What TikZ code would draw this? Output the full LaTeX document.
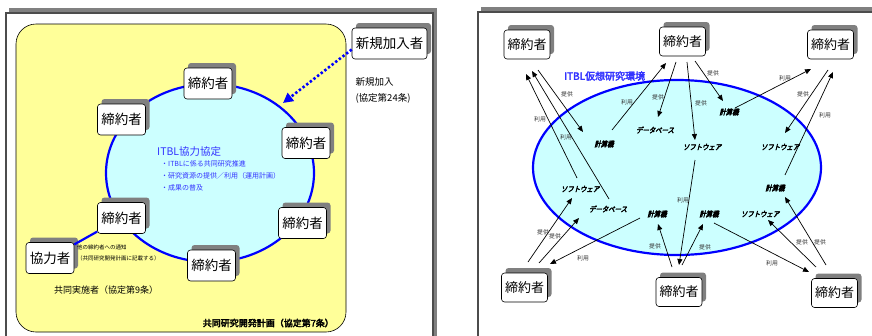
\documentclass[tikz,border=0pt]{standalone}
\usepackage{fontspec}
\setmainfont{Noto Sans CJK JP}
\newfontfamily\resfont{Noto Sans CJK JP}[FakeSlant=0.25,FakeBold=4,FakeStretch=0.85]
\newfontfamily\boldjp{Noto Sans CJK JP}[FakeBold=3]
\usetikzlibrary{arrows.meta,calc}
\definecolor{shadowgray}{HTML}{808080}
\definecolor{yellowbg}{HTML}{FFFF99}
\definecolor{cyanbg}{HTML}{CCFFFF}
\definecolor{ringblue}{HTML}{0000FF}
\definecolor{textblue}{HTML}{3333FF}
\definecolor{labelgray}{HTML}{333333}
\tikzset{
  shadowed/.style={preaction={draw=none,fill=shadowgray,transform canvas={shift={(4pt,5pt)}}}},
  party/.style={shadowed, draw=black, fill=white, rounded corners=3pt, line width=0.6pt,
    minimum width=48pt, minimum height=31pt, inner sep=0pt, font=\fontsize{13.5}{14}\selectfont},
  partyR/.style={party, minimum width=46pt, minimum height=29pt, font=\fontsize{13}{13}\selectfont},
  res/.style={inner sep=1pt, font=\resfont\fontsize{7.5}{8}\selectfont},
  lab/.style={inner sep=0pt, text=labelgray, font=\fontsize{5.8}{6}\selectfont},
  arr/.style={-{Triangle[length=6pt,width=5pt]}, line width=0.7pt},
  ring/.style={draw=ringblue, fill=cyanbg, line width=2.2pt},
  frame/.style={draw=black!70, fill=white, line width=1.2pt},
}
\begin{document}
\begin{tikzpicture}[x=1pt,y=-1pt]
\useasboundingbox (0,0) rectangle (872,335);
\begin{scope}
\clip (0,0) rectangle (872,335);
\fill[shadowgray] (9,8) rectangle (437,345);
\draw[frame] (6,13) rectangle (433,345);
\fill[shadowgray] (481,7) rectangle (880,345);
\draw[frame] (478,12) rectangle (880,345);
\end{scope}

% ---------- left panel ----------
\draw[fill=yellowbg, line width=0.6pt, rounded corners=20pt] (16,24) rectangle (346,332);
\draw[ring] (210,173) ellipse [x radius=104pt, y radius=89pt];

\node[party] (c1) at (208,83.5) {締約者};
\node[party] (c2) at (121.5,119.5) {締約者};
\node[party] (c3) at (306,143) {締約者};
\node[party] (c5) at (121.5,218) {締約者};
\node[party] (c4) at (302.5,223) {締約者};
\node[party] (c6) at (211.5,265.5) {締約者};
\node[party] (kyo) at (50,258) {協力者};
\node[party, minimum width=75pt] (new) at (389.5,43.5) {新規加入者};

\draw[ringblue, line width=2.2pt] (kyo) -- (c5);
\coordinate (newend) at (283,103);
\draw[ringblue, line width=2.6pt, dash pattern=on 2.4pt off 2.2pt,
  -{Triangle[length=10pt,width=10pt]}] ($(new.west)+(0,6)$) -- (newend);

\node[anchor=west, font=\fontsize{9.5}{10}\selectfont] (t1) at (352,82) {新規加入};
\node[anchor=west, font=\fontsize{9.5}{10}\selectfont] (t2) at (352,98) {(協定第24条)};
\node[anchor=west, text=textblue, font=\fontsize{10.5}{10}\selectfont, inner sep=0pt] (t3) at (157,152) {ITBL協力協定};
\node[anchor=west, text=textblue, font=\fontsize{7}{7}\selectfont, inner sep=0pt] (t4) at (161,164) {・ITBLに係る共同研究推進};
\node[anchor=west, text=textblue, font=\fontsize{7}{7}\selectfont, inner sep=0pt] (t5) at (161,176) {・研究資源の提供／利用（運用計画）};
\node[anchor=west, text=textblue, font=\fontsize{7}{7}\selectfont, inner sep=0pt] (t6) at (161,188) {・成果の普及};
\node[anchor=west, font=\fontsize{5.5}{6}\selectfont, inner sep=0pt] (t7) at (77,247) {他の締約者への通知};
\node[anchor=west, font=\fontsize{5.5}{6}\selectfont, inner sep=0pt] (t8) at (77,258) {（共同研究開発計画に記載する）};
\node[anchor=west, font=\fontsize{9}{9}\selectfont, inner sep=0pt] (t9) at (54,290) {共同実施者（協定第9条）};
\node[anchor=east, font=\boldjp\fontsize{9}{9}\selectfont, inner sep=0pt] (t10) at (334,323) {共同研究開発計画（協定第7条）};

% ---------- right panel ----------
\draw[ring] (677,167.5) ellipse [x radius=144pt, y radius=87.5pt];
\node[anchor=west, text=textblue, font=\boldjp\fontsize{10}{10}\selectfont, inner sep=0pt] (env) at (564,76) {ITBL仮想研究環境};

\node[partyR] (tl) at (527,44.5) {締約者};
\node[partyR] (tm) at (682.5,41.5) {締約者};
\node[partyR] (tr) at (830.5,44.5) {締約者};
\node[partyR] (bl) at (524.5,287.5) {締約者};
\node[partyR] (bm) at (679,292) {締約者};
\node[partyR] (br) at (834.5,293) {締約者};

\node[res] (A1) at (604,144) {計算機};
\node[res] (A2) at (655,130) {データベース};
\node[res] (A3) at (702,147) {ソフトウェア};
\node[res] (A4) at (729,112) {計算機};
\node[res] (A5) at (780,147) {ソフトウェア};
\node[res] (B1) at (580,189) {ソフトウェア};
\node[res] (B2) at (608,209) {データベース};
\node[res] (B3) at (657,214) {計算機};
\node[res] (B4) at (709,214) {計算機};
\node[res] (B5) at (760,214) {ソフトウェア};
\node[res] (B6) at (775,188) {計算機};

\draw[arr] ($(tl)+(11,25.5)$) -- ($(A1)+(-21,-12)$);
\draw[arr] ($(B1)+(-3,-11)$) -- ($(tl)+(-1,29.5)$);
\draw[arr] ($(B2)+(1,-10)$) -- ($(tl)+(5,26.5)$);
\draw[arr] ($(A1)+(8,-14)$) -- ($(tm)+(-16.5,21.5)$);
\draw[arr] ($(tm)+(-6.5,20.5)$) -- ($(A2)+(3,-13)$);
\draw[arr] ($(tm)+(4.5,20.5)$) -- ($(A3)+(-7,-7)$);
\draw[arr] ($(tm)+(12.5,19.5)$) -- ($(A4)+(-6,-11)$);
\draw[arr] ($(A4)+(6,-4)$) -- ($(tr)+(-19.5,24.5)$);
\draw[arr] ($(tr)+(-2.5,25.5)$) -- ($(A5)+(5,-14)$);
\draw[arr] ($(B6)+(10,-13)$) -- ($(tr)+(2.5,27.5)$);
\draw[arr] ($(A3)+(-7,13)$) -- ($(bm)+(0,-27)$);
\draw[arr] ($(bl)+(3.5,-25.5)$) -- ($(B1)+(-8,9)$);
\draw[arr] ($(bl)+(14.5,-24.5)$) -- ($(B2)+(-29,9)$);
\draw[arr] ($(B3)+(-17,4)$) -- ($(bl)+(25.5,-23.5)$);
\draw[arr] ($(bm)+(-7,-25)$) -- ($(B3)+(1,10)$);
\draw[arr] ($(bm)+(3,-27)$) -- ($(B4)+(-6,10)$);
\draw[arr] ($(B4)+(5,9)$) -- ($(br)+(-25.5,-21)$);
\draw[arr] ($(br)+(-18.5,-26)$) -- ($(B5)+(8,6)$);
\draw[arr] ($(br)+(-8.5,-28)$) -- ($(B6)+(10,9)$);

\node[lab] (l1) at (567,94) {提供};
\node[lab] (l2) at (540,119) {利用};
\node[lab] (l3) at (566,137) {利用};
\node[lab] (l4) at (627,102) {利用};
\node[lab] (l5) at (658,97) {提供};
\node[lab] (l6) at (701,103) {提供};
\node[lab] (l7) at (713,73) {提供};
\node[lab] (l8) at (785,78) {利用};
\node[lab] (l9) at (803,94) {提供};
\node[lab] (l10) at (825,115) {利用};
\node[lab] (l11) at (683,200) {利用};
\node[lab] (l12) at (543,232) {提供};
\node[lab] (l13) at (555,236) {提供};
\node[lab] (l14) at (583,258) {利用};
\node[lab] (l15) at (655,246) {提供};
\node[lab] (l16) at (705,247) {提供};
\node[lab] (l17) at (772,263) {利用};
\node[lab] (l18) at (802,242) {提供};
\node[lab] (l19) at (820,242) {提供};
\end{tikzpicture}
\end{document}
